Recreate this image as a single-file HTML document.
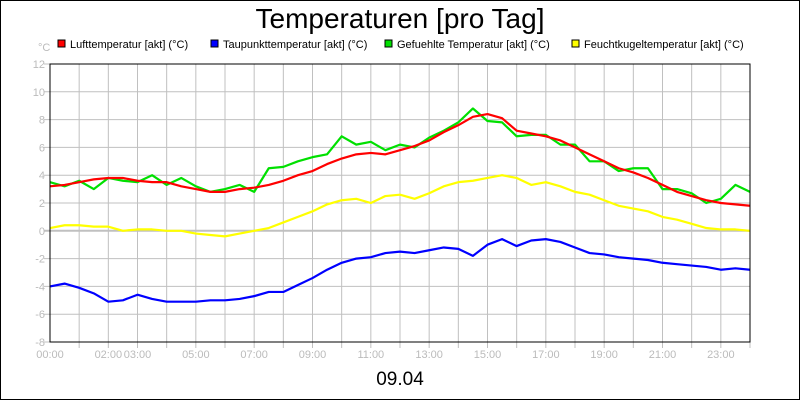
<!DOCTYPE html>
<html><head><meta charset="utf-8"><style>
body{margin:0;background:#fff}
svg{display:block;font-family:"Liberation Sans",sans-serif}
</style></head><body>
<svg id="c" width="800" height="400">
<rect x="0.5" y="0.5" width="799" height="399" fill="#fff" stroke="#000"/>
<text x="400" y="28" font-size="28" text-anchor="middle">Temperaturen [pro Tag]</text>
<text x="400" y="385" font-size="19" text-anchor="middle">09.04</text>
<text x="38" y="51" font-size="11" fill="#bbb">°C</text>
<g id="legend"></g>
<g id="grid"></g>
<g id="series"></g>
<rect x="50" y="64" width="700" height="278" fill="none" stroke="#000"/>
</svg>
<script>
const hours=[0,0.5,1,1.5,2,2.5,3,3.5,4,4.5,5,5.5,6,6.5,7,7.5,8,8.5,9,9.5,10,10.5,11,11.5,12,12.5,13,13.5,14,14.5,15,15.5,16,16.5,17,17.5,18,18.5,19,19.5,20,20.5,21,21.5,22,22.5,23,23.5,24];
const luft=[3.2,3.3,3.5,3.7,3.8,3.8,3.6,3.5,3.5,3.2,3.0,2.8,2.8,3.0,3.1,3.3,3.6,4.0,4.3,4.8,5.2,5.5,5.6,5.5,5.8,6.1,6.5,7.1,7.6,8.2,8.4,8.1,7.2,7.0,6.8,6.5,6.0,5.5,5.0,4.5,4.2,3.8,3.3,2.8,2.5,2.2,2.0,1.9,1.8];
const tau=[-4.0,-3.8,-4.1,-4.5,-5.1,-5.0,-4.6,-4.9,-5.1,-5.1,-5.1,-5.0,-5.0,-4.9,-4.7,-4.4,-4.4,-3.9,-3.4,-2.8,-2.3,-2.0,-1.9,-1.6,-1.5,-1.6,-1.4,-1.2,-1.3,-1.8,-1.0,-0.6,-1.1,-0.7,-0.6,-0.8,-1.2,-1.6,-1.7,-1.9,-2.0,-2.1,-2.3,-2.4,-2.5,-2.6,-2.8,-2.7,-2.8];
const gefuehlt=[3.5,3.2,3.6,3.0,3.8,3.6,3.5,4.0,3.3,3.8,3.2,2.8,3.0,3.3,2.8,4.5,4.6,5.0,5.3,5.5,6.8,6.2,6.4,5.8,6.2,6.0,6.7,7.2,7.8,8.8,7.9,7.8,6.8,6.9,6.9,6.2,6.2,5.0,5.0,4.3,4.5,4.5,3.0,3.0,2.7,2.0,2.3,3.3,2.8];
const feucht=[0.2,0.4,0.4,0.3,0.3,0.0,0.1,0.1,0.0,0.0,-0.2,-0.3,-0.4,-0.2,0.0,0.2,0.6,1.0,1.4,1.9,2.2,2.3,2.0,2.5,2.6,2.3,2.7,3.2,3.5,3.6,3.8,4.0,3.8,3.3,3.5,3.2,2.8,2.6,2.2,1.8,1.6,1.4,1.0,0.8,0.5,0.2,0.1,0.1,0.0];
const yTicks=[-8,-6,-4,-2,0,2,4,6,8,10,12];
const xLabels=["00:00","02:00","03:00","05:00","07:00","09:00","11:00","13:00","15:00","17:00","19:00","21:00","23:00"];
const xLabelHours=[0,2,3,5,7,9,11,13,15,17,19,21,23];
const legendNames=["Lufttemperatur [akt] (°C)","Taupunkttemperatur [akt] (°C)","Gefuehlte Temperatur [akt] (°C)","Feuchtkugeltemperatur [akt] (°C)"];
const NS="http://www.w3.org/2000/svg";
const X=h=>50+h*700/24, Y=v=>342-(v+8)*278/20;
function mk(t,a,p){const e=document.createElementNS(NS,t);for(const k in a)e.setAttribute(k,a[k]);p.appendChild(e);return e;}
const grid=document.getElementById('grid');
for(let h=1;h<24;h++){const l=mk('line',{x1:X(h),x2:X(h),y1:64,y2:348,stroke:'#c0c0c0'},grid);

}
mk('line',{x1:750,x2:750,y1:342,y2:348,stroke:'#c0c0c0'},grid);
for(const v of yTicks){const l=mk('line',{x1:44,x2:750,y1:Y(v),y2:Y(v),stroke:'#c0c0c0','stroke-width':v===0?2:1},grid);


const t=mk('text',{x:45,y:Y(v)+4,'font-size':11,fill:'#bbb','text-anchor':'end'},grid);t.textContent=v;

}
xLabels.forEach((s,i)=>{const t=mk('text',{x:X(xLabelHours[i]),y:358,'font-size':11,fill:'#bbb','text-anchor':'middle'},grid);t.textContent=s;

});
const ser=document.getElementById('series');
const all=[[feucht,'#ffff00'],[tau,'#0000ff'],[gefuehlt,'#00e000'],[luft,'#ff0000']];
const names=['feuchtkugel-line','taupunkt-line','gefuehlt-line','luft-line'];
all.forEach((s,i)=>{const p=mk('polyline',{points:hours.map((h,j)=>X(h)+','+Y(s[0][j])).join(' '),fill:'none',stroke:s[1],'stroke-width':2.2,'stroke-linejoin':'round'},ser);

});
const lg=document.getElementById('legend');
const lx=[58,211,385,572],lc=['#ff0000','#0000ff','#00e000','#ffff00'];
legendNames.forEach((n,i)=>{const r=mk('rect',{x:lx[i],y:40,width:7,height:7,fill:lc[i],stroke:'#000'},lg);


const t=mk('text',{x:lx[i]+12,y:48,'font-size':11},lg);t.textContent=n;

});
</script>
</body></html>
